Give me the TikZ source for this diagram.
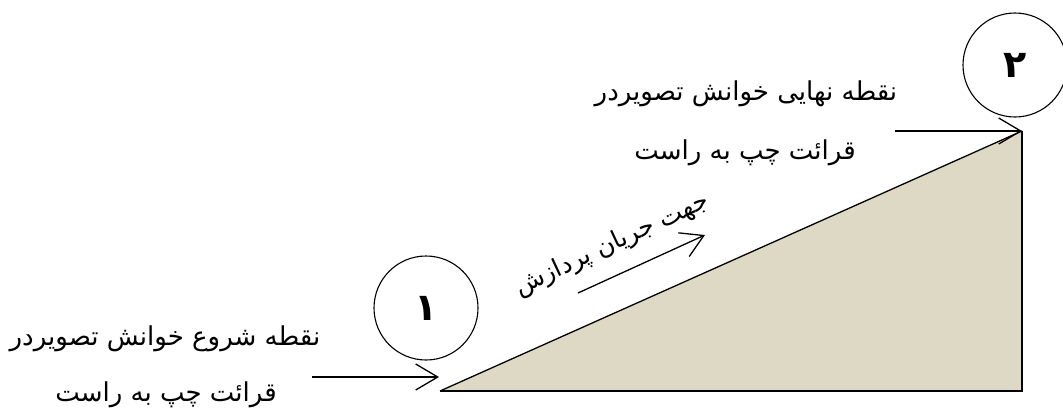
\documentclass[tikz,border=0pt]{standalone}
\usepackage{fontspec}
\TeXXeTstate=1
\newfontfamily\arabicfont[Script=Arabic]{DejaVu Sans}
\usetikzlibrary{arrows.meta}
\definecolor{wedgefill}{RGB}{221,217,196}
\tikzset{
  lbl/.style={font=\arabicfont\fontsize{26}{30}\selectfont, inner sep=0pt, anchor=base},
  numcirc/.style={circle, draw, line width=1.1pt, minimum size=104pt, inner sep=0pt,
    font=\arabicfont\bfseries\fontsize{38}{40}\selectfont},
  barb/.style={line width=1.3pt, -{Straight Barb[length=22pt, width=26pt, line width=1.3pt]}}
}
\begin{document}
\begin{tikzpicture}[x=1pt, y=-1pt]
\useasboundingbox (0,0) rectangle (1063,410);
% wedge
\coordinate (A) at (440,391);
\coordinate (B) at (1022,131);
\coordinate (C) at (1022,391);
\fill[wedgefill] (A) -- (B) -- (C) -- cycle;
\draw[line width=1.3pt] (A) -- (B);
\draw[line width=1.8pt] (B) -- (C) -- (A);
% circles
\node[numcirc] (c1) at (426,308) {\beginR ۱\endR};
\node[numcirc] (c2) at (1015,65) {\beginR ۲\endR};
% labels
\node[lbl] (s1) at (165,345) {\beginR نقطه شروع خوانش تصویردر\endR};
\node[lbl] (s2) at (166,401) {\beginR قرائت چپ به راست\endR};
\node[lbl] (e1) at (746,100) {\beginR نقطه نهایی خوانش تصویردر\endR};
\node[lbl] (e2) at (745,159) {\beginR قرائت چپ به راست\endR};
\node[lbl, anchor=center, rotate=25, font=\arabicfont\fontsize{25}{28}\selectfont] (d) at (612,245) {\beginR جهت جریان پردازش\endR};
% arrows
\coordinate (a1s) at (312,377);
\coordinate (a1e) at (439,377);
\draw[barb] (a1s) -- (a1e);
\coordinate (a2s) at (895,131);
\draw[barb] (a2s) -- (B);
\coordinate (a3s) at (578,293);
\coordinate (a3e) at (705,235);
\draw[barb] (a3s) -- (a3e);
\end{tikzpicture}
\end{document}
